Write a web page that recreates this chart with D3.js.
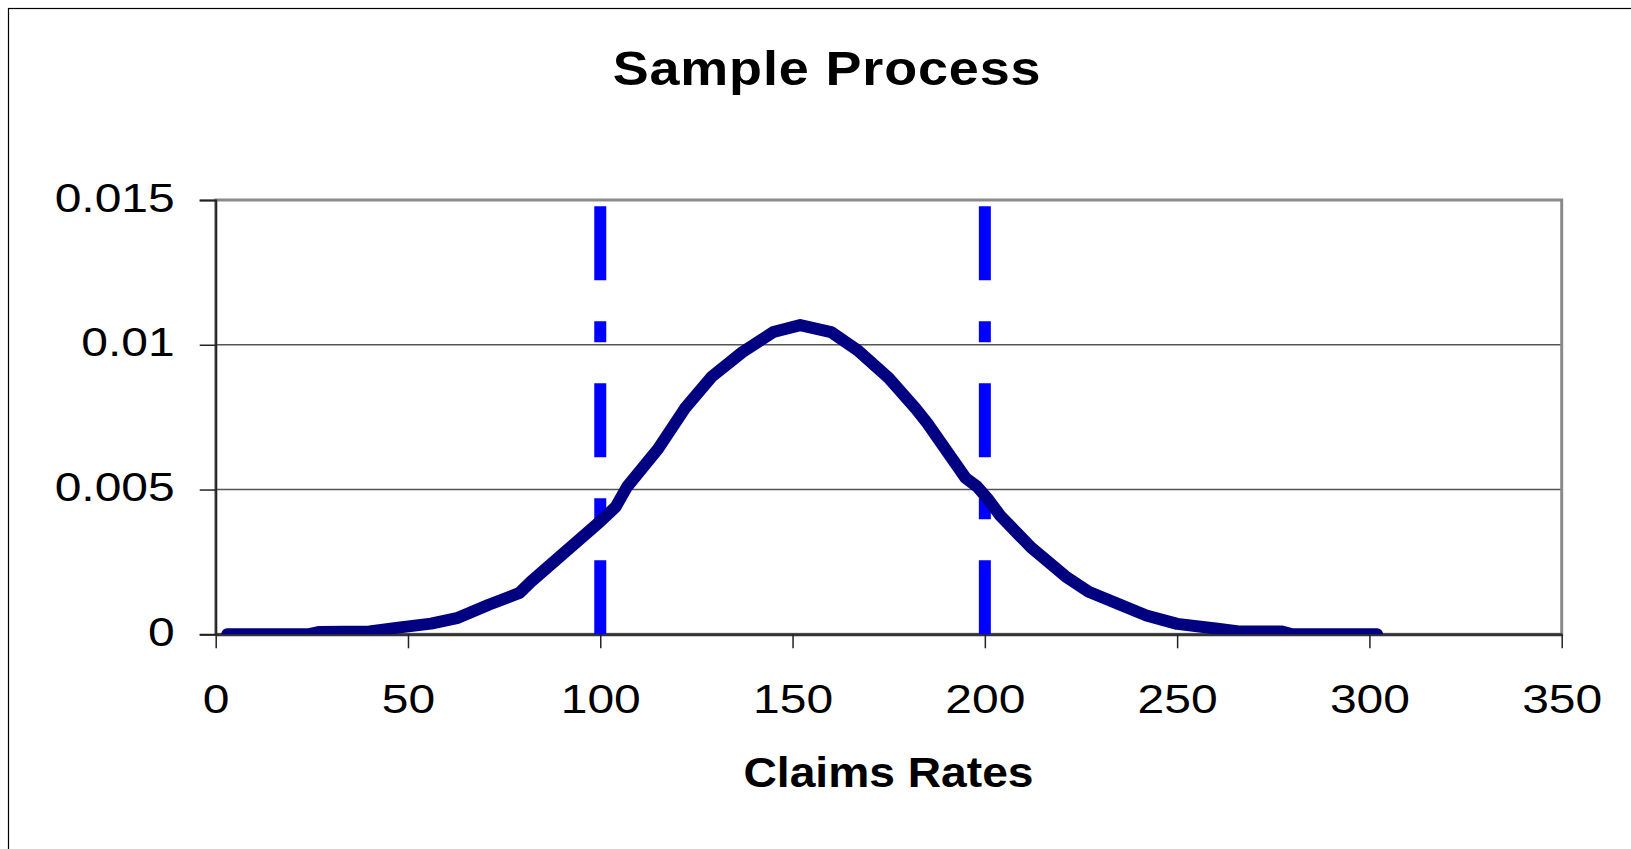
<!DOCTYPE html>
<html>
<head>
<meta charset="utf-8">
<script src="https://cdn.jsdelivr.net/npm/d3@7"></script>
<style>
  body { margin: 0; background: #ffffff; }
  text { font-family: "Liberation Sans", Arial, sans-serif; fill: #000; }
</style>
</head>
<body>
<div id="chart"></div>
<script>
// Curve vertices (claims rate -> density)
const claimRates = [3, 24, 27, 40, 48, 56, 63, 71, 79, 82, 100, 104, 107, 115, 122, 129, 137, 145, 152,
    160, 167, 175, 182, 185, 195, 198, 201, 204, 212, 221, 227, 242, 250, 260, 266, 277, 280, 302];
const density = [0, 0, 0.00008, 0.0001, 0.00024, 0.00037, 0.00057, 0.00102, 0.00143, 0.00182, 0.0039,
    0.0044, 0.0051, 0.0064, 0.0078, 0.0089, 0.00975, 0.01044, 0.01068, 0.01044, 0.0098, 0.00885, 0.0078,
    0.0073, 0.0054, 0.0051, 0.00464, 0.0041, 0.003, 0.002, 0.00147, 0.00065, 0.00036, 0.0002, 0.0001,
    0.0001, 0, 0];
const limitRates = [100, 200]; // the two dashed bounds
const xTicks = [0, 50, 100, 150, 200, 250, 300, 350];
const yTicks = [0, 0.005, 0.01, 0.015];
const chartTitle = "Sample Process";
const xTitle = "Claims Rates";

const width = 1631,
    height = 849,
    plot = { left: 215.7, right: 1561.7, top: 200, bottom: 634.3 },
    stretch = 1.17; // the original text is a bit wide

let svg = d3.select("#chart")
    .append("svg")
    .attr("width", width)
    .attr("height", height);

svg.append("rect")
    .attr("width", width)
    .attr("height", height)
    .attr("fill", "#ffffff");

// outer chart-area border (only top and left show)
svg.append("rect")
    .attr("x", 8.5)
    .attr("y", 8.5)
    .attr("width", 2000)
    .attr("height", 2000)
    .attr("fill", "none")
    .attr("stroke", "#000")
    .attr("stroke-width", 1.2);

let x = d3.scaleLinear().domain([0, 350]).range([plot.left, plot.right]);
let y = d3.scaleLinear().domain([0, 0.015]).range([plot.bottom, plot.top]);

// grid lines
svg.append("g")
    .selectAll("line")
    .data(yTicks.slice(1, -1))
    .enter()
    .append("line")
    .attr("x1", plot.left)
    .attr("x2", plot.right)
    .attr("y1", d => y(d))
    .attr("y2", d => y(d))
    .attr("stroke", "#555")
    .attr("stroke-width", 1.4);

// plot area border
svg.append("rect")
    .attr("x", plot.left)
    .attr("y", plot.top)
    .attr("width", plot.right - plot.left)
    .attr("height", plot.bottom - plot.top)
    .attr("fill", "none")
    .attr("stroke", "#8a8a8a")
    .attr("stroke-width", 3);

// y axis
let yAxis = svg.append("g")
    .attr("transform", "translate(" + plot.left + ",0)")
    .call(d3.axisLeft(y).tickValues(yTicks).tickSize(16).tickFormat(d => String(d)));
yAxis.select(".domain").attr("stroke", "#222").attr("stroke-width", 2);
yAxis.selectAll(".tick line").attr("stroke", "#222").attr("stroke-width", 1.5);
yAxis.selectAll(".tick text")
    .attr("x", 0)
    .attr("dy", null)
    .attr("font-size", 41)
    .attr("transform", "translate(-41,11) scale(" + stretch + ",1)");

// x axis
let xAxis = svg.append("g")
    .attr("transform", "translate(0," + plot.bottom + ")")
    .call(d3.axisBottom(x).tickValues(xTicks).tickSize(14).tickSizeOuter(0));
xAxis.select(".domain").attr("stroke", "#333").attr("stroke-width", 3);
xAxis.selectAll(".tick line").attr("stroke", "#222").attr("stroke-width", 1.5);
xAxis.selectAll(".tick text")
    .attr("y", 0)
    .attr("dy", null)
    .attr("font-size", 41)
    .attr("transform", "translate(0,79) scale(" + stretch + ",1)");

svg.append("clipPath")
    .attr("id", "plotClip")
    .append("rect")
    .attr("x", plot.left)
    .attr("y", plot.top)
    .attr("width", plot.right - plot.left)
    .attr("height", plot.bottom - plot.top);

// dashed bounds, dashes counted from the bottom
svg.append("g")
    .selectAll("line")
    .data(limitRates)
    .enter()
    .append("line")
    .attr("x1", d => x(d))
    .attr("x2", d => x(d))
    .attr("y1", y(0))
    .attr("y2", y(0.015))
    .attr("stroke", "#0000ff")
    .attr("stroke-width", 12)
    .attr("stroke-dasharray", "74 41 21 41");

// density curve
let line = d3.line()
    .x(d => x(d[0]))
    .y(d => y(d[1]));

svg.append("path")
    .datum(d3.zip(claimRates, density))
    .attr("clip-path", "url(#plotClip)")
    .attr("d", line)
    .attr("fill", "none")
    .attr("stroke", "#000080")
    .attr("stroke-width", 12)
    .attr("stroke-linejoin", "round")
    .attr("stroke-linecap", "round");

// titles
svg.append("text")
    .attr("text-anchor", "middle")
    .attr("font-weight", "bold")
    .attr("font-size", 49)
    .attr("letter-spacing", 0.8)
    .attr("transform", "translate(827,85) scale(1.1,1)")
    .text(chartTitle);

svg.append("text")
    .attr("text-anchor", "middle")
    .attr("font-weight", "bold")
    .attr("font-size", 42)
    .attr("transform", "translate(888.5,787) scale(1.1,1)")
    .text(xTitle);
</script>
</body>
</html>
